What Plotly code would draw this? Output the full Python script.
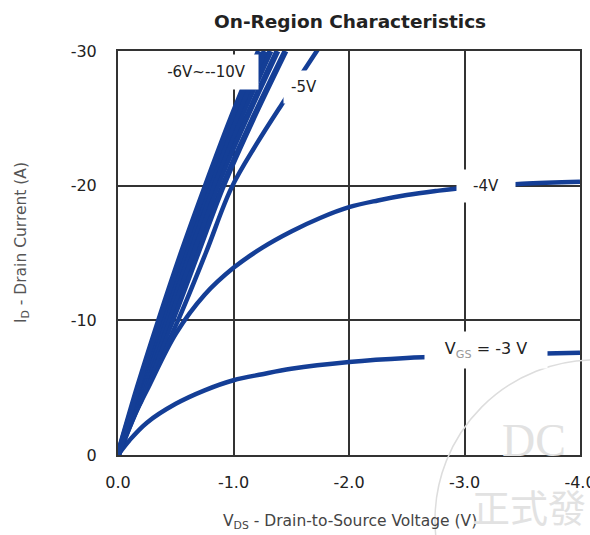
import plotly.graph_objects as go

# ---- data (VDS in volts, ID in amps; negative P-channel values) ----
vds_3 = [0, 0.1, 0.25, 0.5, 0.75, 1.0, 1.25, 1.5, 2.0, 2.5, 3.0, 3.5, 4.0]
id_3 = [0, 1.1, 2.4, 3.8, 4.8, 5.55, 6.0, 6.4, 6.9, 7.2, 7.35, 7.5, 7.6]

vds_4 = [0, 0.1, 0.25, 0.5, 0.75, 1.0, 1.25, 1.5, 1.75, 2.0, 2.25, 2.5, 2.75, 3.0, 3.5, 4.0]
id_4 = [0, 2.2, 4.8, 9.0, 11.9, 13.9, 15.4, 16.6, 17.6, 18.4, 18.9, 19.3, 19.6, 19.85, 20.15, 20.3]

vds_5 = [0, 0.25, 0.52, 0.76, 0.98, 1.2, 1.43, 1.59, 1.76]
id_5 = [0, 5, 10, 15, 19.8, 23.1, 26.2, 28.3, 30.5]

id_band = [0, 5, 10, 15, 20, 25, 30]
vds_6 = [0, 0.23, 0.47, 0.69, 0.91, 1.17, 1.45]
vds_7 = [0, 0.21, 0.43, 0.645, 0.86, 1.11, 1.38]
vds_8 = [0, 0.195, 0.40, 0.605, 0.82, 1.06, 1.32]
vds_9 = [0, 0.18, 0.375, 0.575, 0.785, 1.02, 1.27]
vds_10 = [0, 0.17, 0.355, 0.55, 0.76, 0.98, 1.22]

x_ticks = [0, -1, -2, -3, -4]
x_ticklabels = ["0.0", "-1.0", "-2.0", "-3.0", "-4.0"]
y_ticks = [0, -10, -20, -30]
y_ticklabels = ["0", "-10", "-20", "-30"]

BLUE = "#143e96"
GRID = "#333333"
FONT = "DejaVu Sans"

curves = [
    (vds_3, id_3, 4.5),
    (vds_4, id_4, 4.5),
    (vds_5, id_5, 4.5),
    (vds_6, id_band, 6),
    (vds_7, id_band, 6),
    (vds_8, id_band, 6),
    (vds_9, id_band, 6),
    (vds_10, id_band, 6),
]

fig = go.Figure()
for xs, ys, w in curves:
    fig.add_trace(go.Scatter(
        x=[-v for v in xs], y=[-v for v in ys], mode="lines",
        line=dict(color=BLUE, width=w, shape="spline", smoothing=1.0),
        hoverinfo="skip", showlegend=False,
    ))

axis_common = dict(
    showline=True, mirror=True, linecolor=GRID, linewidth=2,
    showgrid=True, gridcolor=GRID, gridwidth=2, zeroline=False,
    ticks="", tickfont=dict(family=FONT, size=16, color="#222222"),
    ticklabeloverflow="allow", automargin=False,
)
fig.update_xaxes(range=[0, -4], tickvals=x_ticks, ticktext=x_ticklabels,
                 ticklabelstandoff=12, **axis_common)
fig.update_yaxes(range=[0, -30], tickvals=y_ticks, ticktext=y_ticklabels,
                 ticklabelstandoff=16, **axis_common)

ann = []
def label(text, x, y, w, h, size=15):
    ann.append(dict(text=text, x=x, y=y, xref="x", yref="y", showarrow=False,
                    width=w, height=h, bgcolor="white", borderpad=0,
                    xanchor="center", yanchor="middle",
                    font=dict(family=FONT, size=size, color="#222222")))

label("-6V~--10V", -0.762, -28.43, 103, 34)
label("-5V", -1.61, -27.32, 40, 32)
label("-4V", -3.186, -19.97, 58, 32)
label("V<sub><span style='color:#999999'>GS</span></sub> = -3 V", -3.186, -7.80, 122, 36, size=16)

# titles
ann.append(dict(text="<b>On-Region Characteristics</b>", x=0.502, y=1.074,
                xref="paper", yref="paper", showarrow=False,
                xanchor="center", yanchor="middle",
                font=dict(family=FONT, size=18.5, color="#222222")))
ann.append(dict(text="I<sub>D</sub> - Drain Current (A)", x=-0.2078, y=0.527,
                xref="paper", yref="paper", showarrow=False, textangle=-90,
                xanchor="center", yanchor="middle",
                font=dict(family=FONT, size=15.5, color="#555555")))
ann.append(dict(text="V<sub>DS</sub> - Drain-to-Source Voltage (V)", x=0.502, y=(455 - 522) / 404,
                xref="paper", yref="paper", showarrow=False,
                xanchor="center", yanchor="middle",
                font=dict(family=FONT, size=15.5, color="#444444")))

# faint watermark
ann.append(dict(text="DC", x=(500 - 118) / 462, y=(455 - 440) / 404, xref="paper", yref="paper",
                xanchor="left", yanchor="middle", showarrow=False,
                font=dict(family="Liberation Serif", size=46, color="#e2e2e2")))
ann.append(dict(text="正式發", x=(470 - 118) / 462, y=(455 - 505) / 404, xref="paper", yref="paper",
                xanchor="left", yanchor="middle", showarrow=False,
                font=dict(family="Noto Sans CJK TC", size=38, color="#e2e2e2")))

fig.update_layout(
    width=590, height=535, autosize=False,
    margin=dict(l=118, r=10, t=51, b=80),
    plot_bgcolor="white", paper_bgcolor="white",
    annotations=ann,
    shapes=[dict(type="circle", xref="paper", yref="paper",
                 x0=(435 - 118) / 462, x1=(755 - 118) / 462,
                 y0=(455 - 680) / 404, y1=(455 - 360) / 404,
                 line=dict(color="#dddddd", width=1.5), layer="above")],
)

fig.write_html("out.html")
